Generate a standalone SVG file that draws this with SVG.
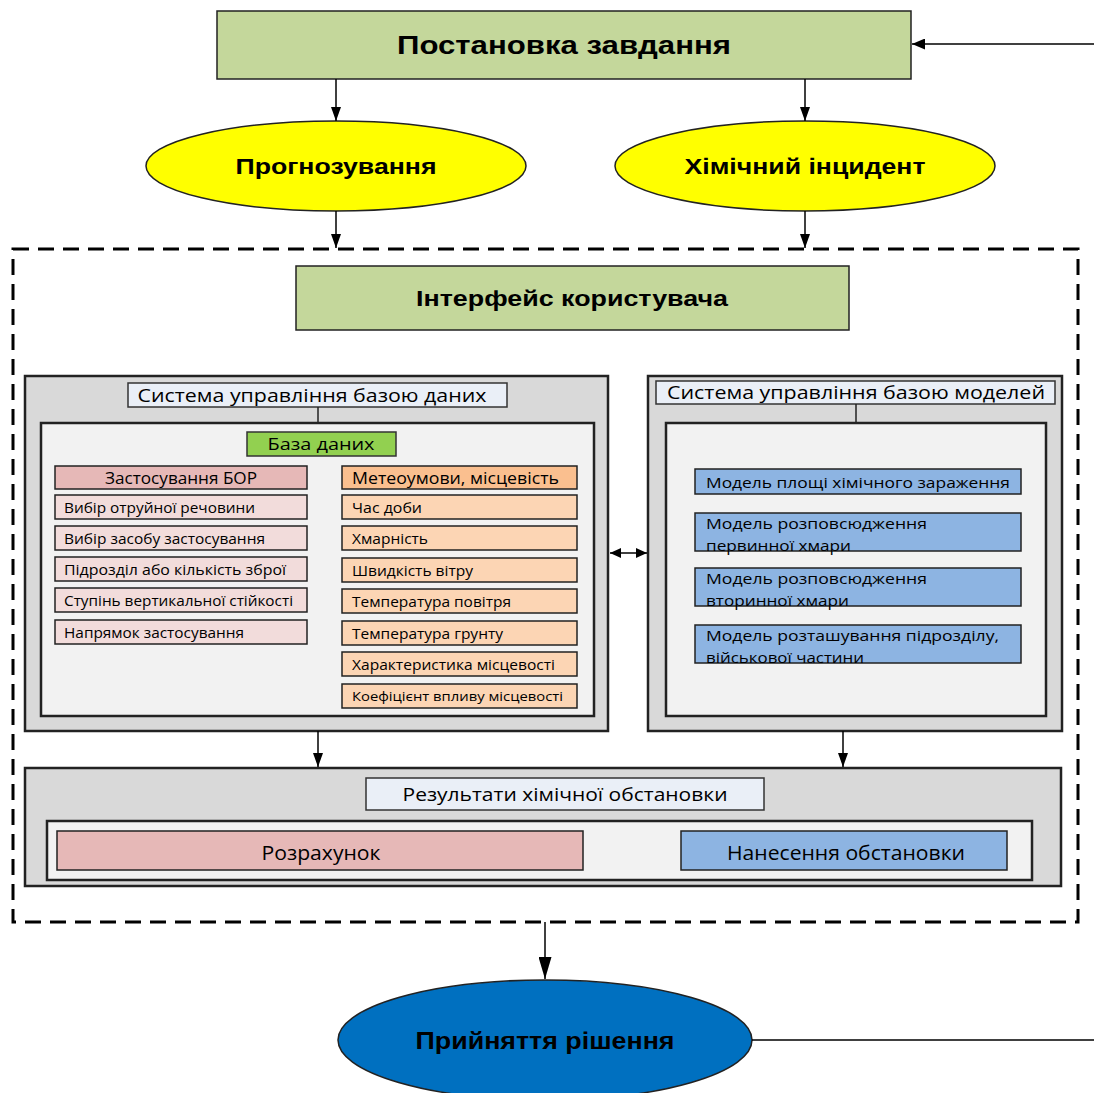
<svg xmlns="http://www.w3.org/2000/svg" width="1094" height="1093" viewBox="0 0 1094 1093">
<defs>
<marker id="ahL" markerWidth="14" markerHeight="10" refX="14" refY="5" orient="auto" markerUnits="userSpaceOnUse" viewBox="0 0 14 10">
<path d="M0,0 L14,5 L0,10 z" fill="#000"/>
</marker>
<marker id="ahR" markerWidth="13" markerHeight="11" refX="13" refY="5.5" orient="auto" markerUnits="userSpaceOnUse" viewBox="0 0 13 11">
<path d="M0,0 L13,5.5 L0,11 z" fill="#000"/>
</marker>
<marker id="ahB" markerWidth="22" markerHeight="13" refX="22" refY="6.5" orient="auto" markerUnits="userSpaceOnUse" viewBox="0 0 22 13">
<path d="M0,0 L22,6.5 L0,13 z" fill="#000"/>
</marker>
<marker id="ahS" markerWidth="11" markerHeight="10" refX="11" refY="5" orient="auto-start-reverse" markerUnits="userSpaceOnUse" viewBox="0 0 11 10">
<path d="M0,0 L11,5 L0,10 z" fill="#000"/>
</marker>
</defs>
<style>
.green{fill:#c4d79b;stroke:#222;stroke-width:1.5}
.yel{fill:#ffff00;stroke:#222;stroke-width:1.5}
.gray{fill:#d9d9d9;stroke:#222;stroke-width:2.5}
.light{fill:#f2f2f2;stroke:#222;stroke-width:2.5}
.title{fill:#eaeff7;stroke:#333;stroke-width:1.5}
.db{fill:#92d050;stroke:#333;stroke-width:1.5}
.pinkH{fill:#e6b8b7;stroke:#222;stroke-width:1.5}
.pink{fill:#f2dcdb;stroke:#222;stroke-width:1.5}
.orH{fill:#fabf8f;stroke:#222;stroke-width:1.5}
.or{fill:#fcd5b4;stroke:#222;stroke-width:1.5}
.blue{fill:#8db4e2;stroke:#222;stroke-width:1.5}
.hb{font-family:"Liberation Sans",Arial,sans-serif;font-weight:bold;fill:#000;text-anchor:middle;dominant-baseline:central}
.t{font-family:"Open Sans","Liberation Sans",sans-serif;fill:#000;dominant-baseline:central}
.c{text-anchor:middle}
.conn line,.conn path{stroke:#000;stroke-width:1.5;fill:none}
</style>

<g id="n-postanovka">
<rect class="green" x="217" y="11" width="694" height="68"/>
<text class="hb" x="564" y="45" font-size="26" textLength="334" lengthAdjust="spacingAndGlyphs">Постановка завдання</text>
</g>
<g id="n-prognoz">
<ellipse class="yel" cx="336" cy="166" rx="190" ry="45"/>
<text class="hb" x="336" y="166" font-size="22" textLength="201" lengthAdjust="spacingAndGlyphs">Прогнозування</text>
</g>
<g id="n-incident">
<ellipse class="yel" cx="805" cy="166" rx="190" ry="45"/>
<text class="hb" x="805" y="166" font-size="22" textLength="241" lengthAdjust="spacingAndGlyphs">Хімічний інцидент</text>
</g>

<g id="n-boundary">
<rect x="13" y="249" width="1065" height="673" fill="none" stroke="#000" stroke-width="3" stroke-dasharray="16,9"/>
</g>

<g id="n-interface">
<rect class="green" x="296" y="266" width="553" height="64"/>
<text class="hb" x="572" y="298" font-size="22" textLength="312" lengthAdjust="spacingAndGlyphs">Інтерфейс користувача</text>
</g>

<g id="n-sub-db">
<rect class="gray" x="25" y="376" width="583" height="355"/>
<rect class="title" x="128" y="383" width="379" height="24"/>
<text class="t c" x="312" y="395" font-size="19" textLength="349" lengthAdjust="spacingAndGlyphs">Система управління базою даних</text>
<line x1="318" y1="407" x2="318" y2="423" stroke="#222" stroke-width="1.5"/>
<rect class="light" x="41" y="423" width="553" height="293"/>
<rect class="db" x="247" y="432" width="149" height="24"/>
<text class="t c" x="321" y="444" font-size="16" textLength="107" lengthAdjust="spacingAndGlyphs">База даних</text>
</g>

<g id="n-bor">
<rect class="pinkH" x="55" y="466" width="252" height="23"/>
<text class="t c" x="181" y="478" font-size="16" textLength="152" lengthAdjust="spacingAndGlyphs">Застосування БОР</text>
<rect class="pink" x="55" y="495" width="252" height="24"/>
<text class="t" x="64" y="507" font-size="14" textLength="191" lengthAdjust="spacingAndGlyphs">Вибір отруйної речовини</text>
<rect class="pink" x="55" y="526" width="252" height="24"/>
<text class="t" x="64" y="538" font-size="14" textLength="201" lengthAdjust="spacingAndGlyphs">Вибір засобу застосування</text>
<rect class="pink" x="55" y="557" width="252" height="24"/>
<text class="t" x="64" y="569" font-size="14" textLength="222" lengthAdjust="spacingAndGlyphs">Підрозділ або кількість зброї</text>
<rect class="pink" x="55" y="588" width="252" height="24"/>
<text class="t" x="64" y="600" font-size="14" textLength="229" lengthAdjust="spacingAndGlyphs">Ступінь вертикальної стійкості</text>
<rect class="pink" x="55" y="620" width="252" height="24"/>
<text class="t" x="64" y="632" font-size="14" textLength="180" lengthAdjust="spacingAndGlyphs">Напрямок застосування</text>
</g>

<g id="n-meteo">
<rect class="orH" x="342" y="466" width="235" height="23"/>
<text class="t" x="352" y="478" font-size="16" textLength="207" lengthAdjust="spacingAndGlyphs">Метеоумови, місцевість</text>
<rect class="or" x="342" y="495" width="235" height="24"/>
<text class="t" x="352" y="507" font-size="14" textLength="70" lengthAdjust="spacingAndGlyphs">Час доби</text>
<rect class="or" x="342" y="526" width="235" height="24"/>
<text class="t" x="352" y="538" font-size="14" textLength="76" lengthAdjust="spacingAndGlyphs">Хмарність</text>
<rect class="or" x="342" y="558" width="235" height="24"/>
<text class="t" x="352" y="570" font-size="14" textLength="121" lengthAdjust="spacingAndGlyphs">Швидкість вітру</text>
<rect class="or" x="342" y="589" width="235" height="24"/>
<text class="t" x="352" y="601" font-size="14" textLength="159" lengthAdjust="spacingAndGlyphs">Температура повітря</text>
<rect class="or" x="342" y="621" width="235" height="24"/>
<text class="t" x="352" y="633" font-size="14" textLength="151" lengthAdjust="spacingAndGlyphs">Температура грунту</text>
<rect class="or" x="342" y="652" width="235" height="24"/>
<text class="t" x="352" y="664" font-size="14" textLength="203" lengthAdjust="spacingAndGlyphs">Характеристика місцевості</text>
<rect class="or" x="342" y="684" width="235" height="24"/>
<text class="t" x="352" y="696" font-size="13" textLength="211" lengthAdjust="spacingAndGlyphs">Коефіцієнт впливу  місцевості</text>
</g>

<g id="n-sub-models">
<rect class="gray" x="648" y="376" width="414" height="355"/>
<rect class="title" x="656" y="381" width="399" height="23"/>
<text class="t c" x="856" y="392" font-size="19" textLength="378" lengthAdjust="spacingAndGlyphs">Система управління базою моделей</text>
<line x1="856" y1="404" x2="856" y2="423" stroke="#222" stroke-width="1.5"/>
<rect class="light" x="666" y="423" width="380" height="293"/>
</g>

<g id="n-models">
<rect class="blue" x="695" y="469" width="326" height="25"/>
<text class="t" x="706" y="482" font-size="15" textLength="304" lengthAdjust="spacingAndGlyphs">Модель площі хімічного зараження</text>
<rect class="blue" x="695" y="513" width="326" height="38"/>
<text class="t" x="706" y="523" font-size="15" textLength="221" lengthAdjust="spacingAndGlyphs">Модель розповсюдження</text>
<text class="t" x="706" y="545" font-size="15" textLength="145" lengthAdjust="spacingAndGlyphs">первинної хмари</text>
<rect class="blue" x="695" y="568" width="326" height="38"/>
<text class="t" x="706" y="578" font-size="15" textLength="221" lengthAdjust="spacingAndGlyphs">Модель розповсюдження</text>
<text class="t" x="706" y="600" font-size="15" textLength="143" lengthAdjust="spacingAndGlyphs">вторинної хмари</text>
<rect class="blue" x="695" y="625" width="326" height="38"/>
<text class="t" x="706" y="635" font-size="15" textLength="293" lengthAdjust="spacingAndGlyphs">Модель розташування підрозділу,</text>
<text class="t" x="706" y="657" font-size="15" textLength="158" lengthAdjust="spacingAndGlyphs">військової частини</text>
</g>

<g id="n-results">
<rect class="gray" x="25" y="768" width="1036" height="118"/>
<rect class="title" x="366" y="778" width="398" height="32"/>
<text class="t c" x="565" y="794" font-size="19" textLength="325" lengthAdjust="spacingAndGlyphs">Результати хімічної обстановки</text>
<rect class="light" x="47" y="821" width="985" height="59"/>
<rect class="pinkH" x="57" y="831" width="526" height="39"/>
<text class="t c" x="321" y="852" font-size="20" textLength="119" lengthAdjust="spacingAndGlyphs">Розрахунок</text>
<rect class="blue" x="681" y="831" width="326" height="39"/>
<text class="t c" x="846" y="852" font-size="20" textLength="238" lengthAdjust="spacingAndGlyphs">Нанесення обстановки</text>
</g>

<g id="n-decision">
<ellipse cx="545" cy="1040" rx="207" ry="60" fill="#0070c0" stroke="#222" stroke-width="1.5"/>
<text class="hb" x="545" y="1041" font-size="23" textLength="259" lengthAdjust="spacingAndGlyphs">Прийняття рішення</text>
</g>

<g class="conn" id="connectors">
<line x1="1094" y1="44" x2="912" y2="44" marker-end="url(#ahR)"/>
<line x1="336" y1="79" x2="336" y2="121" marker-end="url(#ahL)"/>
<line x1="805" y1="79" x2="805" y2="121" marker-end="url(#ahL)"/>
<line x1="336" y1="211" x2="336" y2="248" marker-end="url(#ahL)"/>
<line x1="805" y1="211" x2="805" y2="248" marker-end="url(#ahL)"/>
<line x1="610" y1="553" x2="647" y2="553" marker-start="url(#ahS)" marker-end="url(#ahS)"/>
<line x1="318" y1="731" x2="318" y2="767" marker-end="url(#ahL)"/>
<line x1="843" y1="731" x2="843" y2="767" marker-end="url(#ahL)"/>
<line x1="545" y1="922" x2="545" y2="979" stroke-width="3" marker-end="url(#ahB)"/>
<line x1="752" y1="1040" x2="1094" y2="1040"/>
</g>
</svg>
